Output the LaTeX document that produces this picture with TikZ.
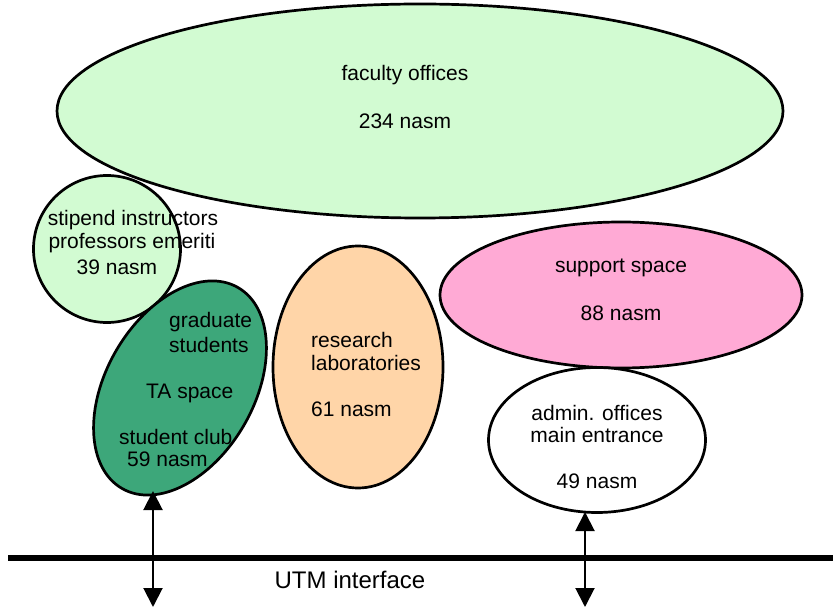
\documentclass[tikz,border=0pt]{standalone}
\usepackage{fontspec}
\setmainfont{Liberation Sans}
\usetikzlibrary{shapes.geometric,arrows.meta}
\definecolor{facgreen}{HTML}{D2FBD2}
\definecolor{gradgreen}{HTML}{3DA77A}
\definecolor{labor}{HTML}{FFD5A8}
\definecolor{suppink}{HTML}{FFAAD5}
\begin{document}
\begin{tikzpicture}[x=1pt,y=-1pt,
  blob/.style={ellipse,draw=black,line width=2.7pt,inner sep=0pt},
  lbl/.style={inner sep=0pt,font=\fontsize{21}{23.5}\selectfont},
  arr/.style={line width=2pt,{Triangle[length=19pt,width=19pt]}-{Triangle[length=19pt,width=19pt]}}]
\useasboundingbox (0,0) rectangle (833,609);
% shapes
\node[blob,fill=facgreen,minimum width=726pt,minimum height=214pt] (fac) at (420,111) {};
\node[blob,fill=facgreen,minimum width=147pt,minimum height=147pt] (stip) at (107,249) {};
\node[blob,fill=gradgreen,minimum width=148pt,minimum height=232pt,rotate=-30] (grad) at (180,388) {};
\node[blob,fill=labor,minimum width=170pt,minimum height=242pt] (lab) at (358,367) {};
\node[blob,fill=suppink,minimum width=362pt,minimum height=146pt] (sup) at (621,295) {};
\node[blob,fill=white,minimum width=217pt,minimum height=145pt] (adm) at (597,440) {};
% texts
\node[lbl] (facA) at (405,75) {faculty offices};
\node[lbl] (facB) at (405,121) {234 nasm};
\node[lbl] (stA) at (133,220) {stipend instructors};
\node[lbl] (stB) at (132,243) {professors emeriti};
\node[lbl] (stC) at (117,267) {39 nasm};
\node[lbl,anchor=west] (grA) at (169,322) {graduate};
\node[lbl,anchor=west] (grB) at (169,345) {students};
\node[lbl,anchor=west] (grC) at (146,393) {TA space};
\node[lbl,anchor=west] (grD) at (119,437) {student club};
\node[lbl,anchor=west] (grE) at (127,459) {59 nasm};
\node[lbl,anchor=west] (lbA) at (311,340) {research};
\node[lbl,anchor=west] (lbB) at (311,363) {laboratories};
\node[lbl,anchor=west] (lbC) at (311,409) {61 nasm};
\node[lbl] (spA) at (621,268) {support space};
\node[lbl] (spB) at (621,313) {88 nasm};
\node[lbl] (adA) at (597,413) {admin. offices};
\node[lbl] (adB) at (597,435) {main entrance};
\node[lbl] (adC) at (597,481) {49 nasm};
% interface
\coordinate (ifL) at (8,558);
\coordinate (ifR) at (833,558);
\draw[line width=6pt] (ifL) -- (ifR);
\node[lbl,font=\fontsize{24}{27}\selectfont] (utm) at (350,580) {UTM interface};
% arrows
\coordinate (gTop) at (153,491);
\coordinate (gBot) at (153,607);
\coordinate (aTop) at (585,512);
\coordinate (aBot) at (585,607);
\draw[arr] (gTop) -- (gBot);
\draw[arr] (aTop) -- (aBot);
\end{tikzpicture}
\end{document}
